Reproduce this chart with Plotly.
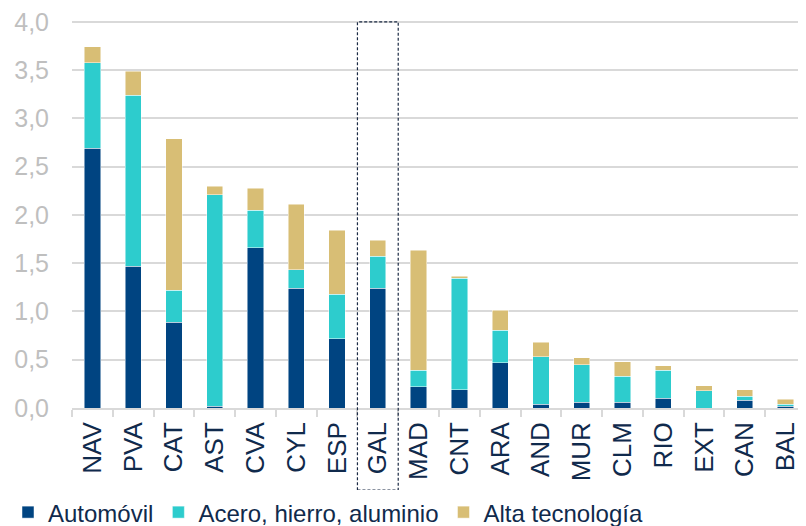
import plotly.graph_objects as go

# ── Data ──────────────────────────────────────────────────────────────────────

regions = ["NAV", "PVA", "CAT", "AST", "CVA", "CYL", "ESP", "GAL", "MAD",
           "CNT", "ARA", "AND", "MUR", "CLM", "RIO", "EXT", "CAN", "BAL"]

automovil = [2.69, 1.47, 0.89, 0.02, 1.66, 1.24, 0.72, 1.24, 0.22,
             0.19, 0.47, 0.04, 0.06, 0.06, 0.10, 0.00, 0.08, 0.02]
acero = [0.885, 1.77, 0.33, 2.19, 0.39, 0.19, 0.46, 0.33, 0.17,
         1.155, 0.335, 0.49, 0.39, 0.27, 0.29, 0.18, 0.04, 0.02]
alta_tec = [0.165, 0.25, 1.57, 0.085, 0.225, 0.68, 0.66, 0.17, 1.245,
            0.02, 0.21, 0.15, 0.07, 0.15, 0.05, 0.05, 0.07, 0.05]

series = [
    ("Automóvil", automovil, "#004481"),
    ("Acero, hierro, aluminio", acero, "#2dcccd"),
    ("Alta tecnología", alta_tec, "#d8be75"),
]

NAVY_TEXT = "#102a4c"
GRID = "#d9d9d9"

# the page body adds an 8px margin, so the figure is 8px smaller each way
W, H = 798, 518
Y_MAX = 4.03  # a little headroom so the 4,0 gridline is drawn

# ── Figure ────────────────────────────────────────────────────────────────────

fig = go.Figure()
for name, vals, color in series:
    fig.add_trace(go.Bar(
        x=regions, y=vals, name=name,
        marker=dict(color=color, line=dict(color="rgba(255,255,255,0.6)", width=0.8)),
    ))

# dashed box highlighting GAL (runs from the 4,0 gridline down past the label)
fig.add_shape(
    type="rect", xref="x", yref="paper",
    x0=6.5, x1=7.5, y0=-0.211, y1=4.0 / Y_MAX,
    line=dict(color="#1b2a44", width=1.2, dash="3px,2px"),
)

fig.update_layout(
    barmode="stack",
    bargap=0.6,
    width=W, height=H,
    paper_bgcolor="white",
    plot_bgcolor="white",
    separators=",.",
    font=dict(family="Liberation Sans, Arial, sans-serif", color=NAVY_TEXT),
    margin=dict(l=64, r=0, t=11, b=118),
    showlegend=True,
    legend=dict(
        orientation="h",
        xref="container", yref="container",
        x=0.0, y=0.026, xanchor="left", yanchor="middle",
        font=dict(size=24, color=NAVY_TEXT),
        traceorder="normal",
        itemwidth=30,
    ),
    xaxis=dict(
        type="category",
        tickangle=-90,
        tickfont=dict(size=26, color=NAVY_TEXT),
        showline=True, linecolor=GRID, linewidth=1.5,
        ticks="outside", tickson="boundaries", ticklen=7,
        tickcolor=GRID, tickwidth=1.5,
        ticklabelstandoff=2,
        showgrid=False,
        automargin=False,
    ),
    yaxis=dict(
        range=[0, Y_MAX],
        dtick=0.5,
        tickformat=".1f",
        tickfont=dict(size=25, color="#bfbfbf"),
        showgrid=True, gridcolor=GRID, gridwidth=1.5,
        zeroline=False, showline=False,
        ticklabelstandoff=22,
        ticklabeloverflow="allow",
        automargin=False,
    ),
)

fig.write_html("out.html")
